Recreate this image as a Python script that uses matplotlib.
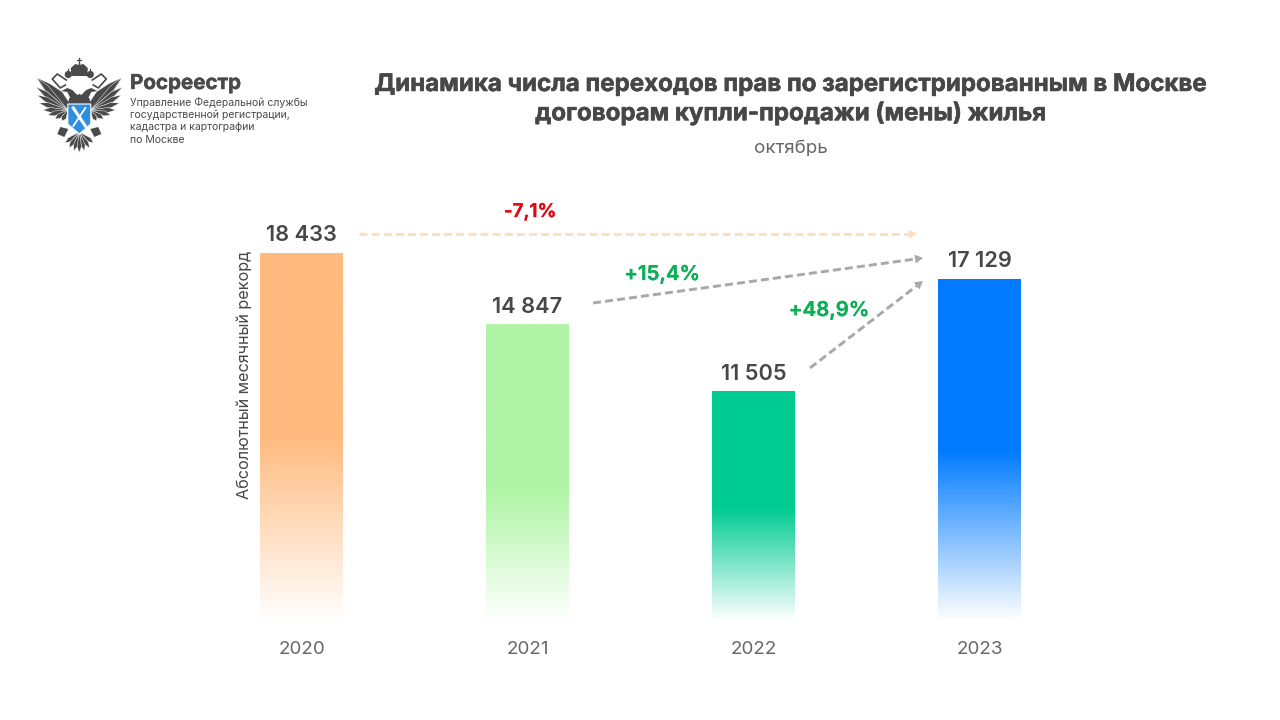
import numpy as np
import matplotlib
matplotlib.use('Agg')
import matplotlib.pyplot as plt
import matplotlib.patheffects as pe
from matplotlib.colors import LinearSegmentedColormap
from matplotlib.patches import Polygon, Circle

years = ['2020', '2021', '2022', '2023']
values = [18433, 14847, 11505, 17129]
value_labels = ['18 433', '14 847', '11 505', '17 129']
bar_colors = ['#FFBB7F', '#AFF5A5', '#00CC92', '#007BFF']
solid_until = [0.50, 0.56, 0.51, 0.50]  # share of the bar height kept solid from the top
pct_labels = ['-7,1%', '+15,4%', '+48,9%']
pct_colors = ['#E30613', '#0BAF55', '#0BAF55']
pct_sizes = [13.6, 14.7, 14.7]

plt.rcParams['font.family'] = ['Inter', 'DejaVu Sans']
W, H = 1280, 720
dark = '#474747'


def heavy(w, col=dark):
    return [pe.withStroke(linewidth=w, foreground=col)]


fig = plt.figure(figsize=(W / 100, H / 100), dpi=100, facecolor='white')

# bars: zero line just under y=620px, 2020 bar top at about y=252px
ax = fig.add_axes([188.5 / W, (H - 620.7) / H, 904 / W, 400 / H])
for s in ax.spines.values():
    s.set_visible(False)
ax.tick_params(length=0, labelsize=13.5, labelcolor='#666666', pad=14.5)
ax.set_xticks(range(4))
ax.set_xticklabels(years)
ax.set_yticks([])
ax.patch.set_alpha(0)

bw = 83 / 226
for i, v in enumerate(values):
    cmap = LinearSegmentedColormap.from_list('g', [(0, bar_colors[i]), (solid_until[i], bar_colors[i]), (1, '#FFFFFF')])
    grad = np.linspace(0, 1, 256).reshape(-1, 1)
    ax.imshow(grad, cmap=cmap, vmin=0, vmax=1, aspect='auto', extent=(i - bw / 2, i + bw / 2, 0, v), zorder=2)
    ax.text(i, v + 370, value_labels[i], ha='center', va='bottom', fontsize=15.7, fontweight='semibold', color=dark)
ax.set_xlim(-0.5, 3.5)
ax.set_ylim(0, 400 * 18433 / 368)

# overlay in pixel coordinates for titles, arrows, logo
ov = fig.add_axes([0, 0, 1, 1])
ov.set_xlim(0, W)
ov.set_ylim(H, 0)
ov.axis('off')
ov.patch.set_alpha(0)

for y, line in [(85, 'Динамика числа переходов прав по зарегистрированным в Москве'),
                (114, 'договорам купли-продажи (мены) жилья')]:
    ov.text(791, y, line, ha='center', va='center', fontsize=17.35, fontweight='bold', color=dark,
            path_effects=heavy(0.4))
ov.text(791, 148, 'октябрь', ha='center', va='center', fontsize=13.5, color='#666666')
ov.text(244.5, 375, 'Абсолютный месячный рекорд', rotation=90, ha='center', va='center', fontsize=11.65, color=dark)

arrows = [((359, 234), (917, 234), '#FFDDBF'), ((593, 303), (923, 258), '#A8A8A8'), ((810, 368), (923, 281), '#A8A8A8')]
pct_pos = [(530, 212), (662, 275), (829, 311)]
for (a, b, c), t, col, p, fs in zip(arrows, pct_labels, pct_colors, pct_pos, pct_sizes):
    ang = np.arctan2(b[1] - a[1], b[0] - a[0])
    end = (b[0] - 8 * np.cos(ang), b[1] - 8 * np.sin(ang))
    ov.plot([a[0], end[0]], [a[1], end[1]], color=c, lw=2.1, ls=(0, (2.75, 1.4)), solid_capstyle='butt')
    nx, ny = -np.sin(ang), np.cos(ang)
    ov.add_patch(Polygon([b, (end[0] + 4.5 * nx, end[1] + 4.5 * ny), (end[0] - 4.5 * nx, end[1] - 4.5 * ny)], color=c, lw=0))
    ov.text(p[0], p[1], t, ha='center', va='center', fontsize=fs, fontweight='semibold', color=col,
            path_effects=heavy(0.25, col))

# logo text
ov.text(130, 84, 'Росреестр', ha='left', va='center', fontsize=14.8, fontweight='bold', color='#4A4A4A',
        path_effects=heavy(0.3, '#4A4A4A'))
logo_lines = ['Управление Федеральной службы', 'государственной регистрации,', 'кадастра и картографии', 'по Москве']
for k, line in enumerate(logo_lines):
    ov.text(130, 103 + k * 12.2, line, ha='left', va='center', fontsize=7.55, color='#4A4A4A')

# emblem, drawn by hand, symmetric around x=79.3
eagle = '#4A4A4A'
cx = 79.3


def feather(root, tip, w):
    rx, ry = root
    tx, ty = tip
    d = np.hypot(tx - rx, ty - ry)
    nx, ny = -(ty - ry) / d, (tx - rx) / d
    mx, my = rx + (tx - rx) * 0.7, ry + (ty - ry) * 0.7
    return [(rx, ry), (mx + nx * w, my + ny * w), (tx, ty), (mx - nx * w, my - ny * w)]


wing_tips = [(37, 78), (36, 87), (37, 95), (39, 103), (43, 110), (48, 115), (55, 119), (62, 121)]
tail_tips = [(65, 143), (69, 148), (74, 151), (79.3, 152.5)]
for sgn in (-1, 1):
    m = lambda x: cx + sgn * (x - cx)
    # wing upper part
    ov.add_patch(Polygon([(m(37), 78), (m(50), 84), (m(62), 92), (m(70), 104), (m(68), 112), (m(56), 108)], color=eagle, lw=0))
    for t in wing_tips:
        ov.add_patch(Polygon(feather((m(68), 110), (m(t[0]), t[1]), 2.5), fc=eagle, ec='white', lw=0.3))
    for t in tail_tips:
        ov.add_patch(Polygon(feather((cx, 132), (m(t[0]), t[1]), 2.2), fc=eagle, ec='white', lw=0.3))
    # head and neck
    ov.add_patch(Polygon([(cx + sgn * 1, 102), (cx + sgn * 2, 95), (cx + sgn * 7, 90), (cx + sgn * 12, 88),
                          (cx + sgn * 18, 91), (cx + sgn * 12, 92), (cx + sgn * 9, 98), (cx + sgn * 9, 104)], color=eagle, lw=0))
    # side crown, stalk and ribbon
    ov.add_patch(Circle((cx + sgn * 11, 74.5), 3.6, color=eagle, lw=0))
    ov.plot([cx + sgn * 11, cx + sgn * 11], [69, 72], color=eagle, lw=0.9)
    ov.plot([cx + sgn * 13, cx + sgn * 22, cx + sgn * 27, cx + sgn * 19, cx + sgn * 14],
            [80, 74, 79, 88, 85], color=eagle, lw=1.2)
    # claw
    ov.add_patch(Polygon([(cx + sgn * 11, 129), (cx + sgn * 19, 127), (cx + sgn * 22, 134), (cx + sgn * 15, 137)], color=eagle, lw=0))
# central crown and cross
ov.add_patch(Polygon([(cx - 8, 76), (cx - 8.5, 68), (cx - 4, 64), (cx, 65), (cx + 4, 64), (cx + 8.5, 68), (cx + 8, 76)], color=eagle, lw=0))
ov.plot([cx, cx], [58, 65], color=eagle, lw=1)
ov.plot([cx - 2, cx + 2], [60, 60], color=eagle, lw=0.8)
ov.add_patch(Polygon([(cx - 10, 98), (cx, 94), (cx + 10, 98), (cx + 12, 106), (cx - 12, 106)], color=eagle, lw=0))
# shield
ov.add_patch(Polygon([(cx - 11.5, 104), (cx + 11.5, 104), (cx + 11.5, 124), (cx, 134), (cx - 11.5, 124)],
                     fc='#2E8FE0', ec='white', lw=0.8, zorder=4))
ov.plot([cx - 6, cx + 6], [108, 126], color='white', lw=2.2, zorder=5)
ov.plot([cx + 6, cx - 6], [108, 126], color='white', lw=1.3, zorder=5)

fig.savefig('out.png', dpi=100)
